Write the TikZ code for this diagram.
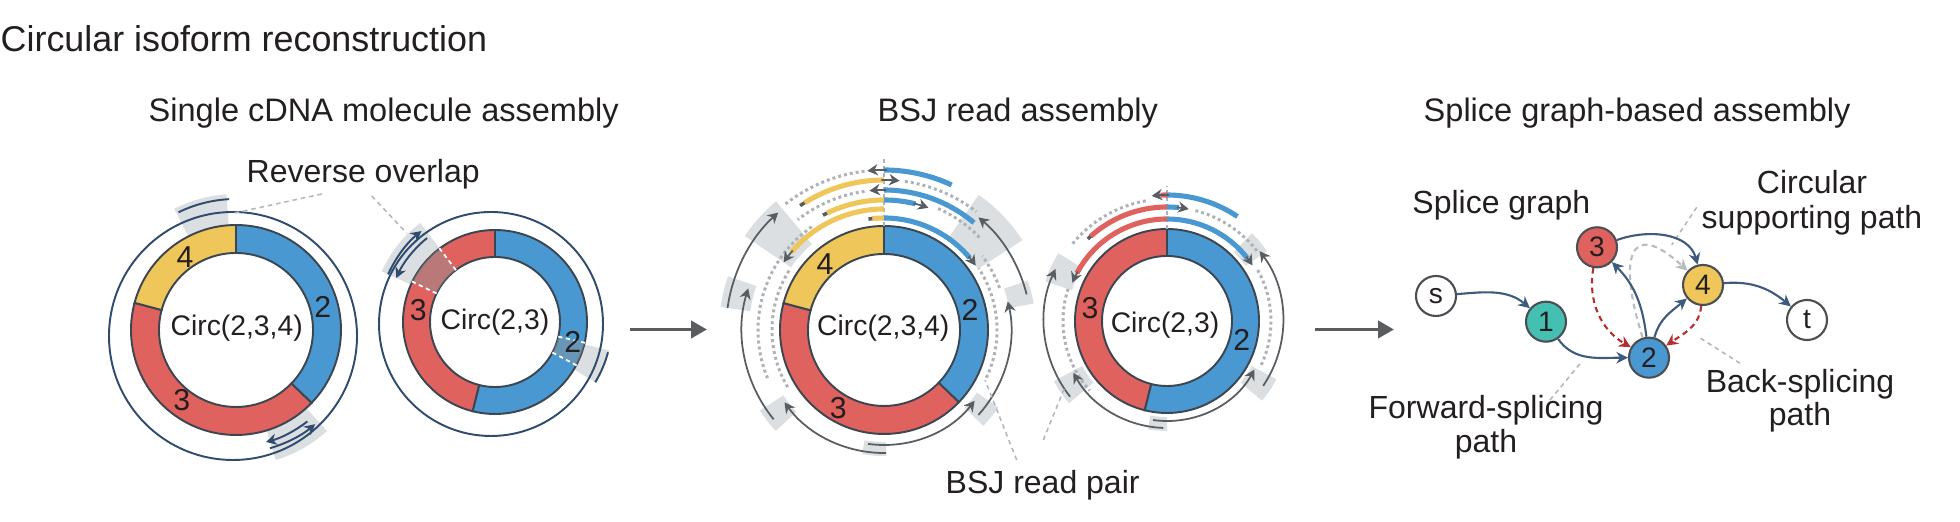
\documentclass[tikz,border=0pt]{standalone}
\usepackage{fontspec}
\setmainfont{Liberation Sans}
\usetikzlibrary{arrows.meta}
\definecolor{cblue}{HTML}{4A98D1}
\definecolor{cred}{HTML}{E0625F}
\definecolor{cyel}{HTML}{EEC659}
\definecolor{cteal}{HTML}{44BFB2}
\definecolor{navy}{HTML}{2F4B6E}
\definecolor{dgray}{HTML}{585D62}
\definecolor{dotc}{HTML}{AEB3B8}
\definecolor{pat}{HTML}{DCDFE2}
\definecolor{ovl}{HTML}{8F9499}
\definecolor{txt}{HTML}{231F20}
\definecolor{ringln}{HTML}{3B4650}
\definecolor{edgec}{HTML}{3E5A7E}
\definecolor{dred}{HTML}{B3302E}
\definecolor{gdash}{HTML}{B9BCBF}
\definecolor{nodeb}{HTML}{4B4F54}
\definecolor{leadc}{HTML}{B4B8BC}
\definecolor{bigc}{HTML}{5A5D60}
\newcommand{\annsec}[5][]{\path[#1] (#2:#4) arc[start angle=#2,end angle=#3,radius=#4] -- (#3:#5) arc[start angle=#3,end angle=#2,radius=#5] -- cycle;}
\newcommand{\rarc}[4][]{\draw[#1] (#2:#4) arc[start angle=#2,end angle=#3,radius=#4];}
\begin{document}
\begin{tikzpicture}[x=0.01cm,y=0.01cm,
  ttl/.style={anchor=base west,inner sep=0pt,text=txt,font=\fontsize{10.2pt}{12pt}\selectfont},
  hd/.style={anchor=base west,inner sep=0pt,text=txt,font=\fontsize{9.25pt}{11pt}\selectfont},
  lab/.style={inner sep=0pt,text=txt,font=\fontsize{9.1pt}{9.5pt}\selectfont,align=center},
  circlab/.style={inner sep=0pt,text=txt,font=\fontsize{8.05pt}{9pt}\selectfont},
  dig/.style={inner sep=0pt,text=txt,font=\fontsize{8.6pt}{9pt}\selectfont},
  ringseg/.style={draw=ringln,line width=0.55pt},
  navyln/.style={draw=navy,line width=0.55pt},
  nar/.style={draw=navy,line width=0.55pt,-{Stealth[length=3pt,width=3.2pt]}},
  dotln/.style={draw=dotc,line width=0.85pt,dash pattern=on 0.85pt off 0.85pt},
  readb/.style={draw=cblue,line width=1.45pt},
  ready/.style={draw=cyel,line width=1.45pt},
  readr/.style={draw=cred,line width=1.45pt},
  tailst/.style={draw=dgray,line width=1pt},
  gar/.style={draw=dgray,line width=0.5pt,-{Stealth[length=3pt,width=3.2pt]}},
  junc/.style={draw=dotc,line width=0.35pt,dash pattern=on 1pt off 1pt},
  wdash/.style={draw=white,line width=0.5pt,dash pattern=on 1.2pt off 1pt},
  leader/.style={draw=leadc,line width=0.45pt,dash pattern=on 1.3pt off 1.1pt},
  edge/.style={draw=edgec,line width=0.6pt,-{Stealth[length=3.3pt,width=3.3pt]}},
  redge/.style={draw=dred,line width=0.6pt,dash pattern=on 1.6pt off 1.2pt,-{Stealth[length=3.3pt,width=3.3pt]}},
  gedge/.style={draw=gdash,line width=0.6pt,dash pattern=on 1.6pt off 1.2pt,-{Stealth[length=3.3pt,width=3.3pt]}},
  snode/.style={circle,draw=nodeb,line width=0.6pt,minimum size=0.4cm,inner sep=0pt,text=txt,font=\fontsize{8pt}{9pt}\selectfont},
  bigarr/.style={draw=bigc,line width=1.1pt,-{Triangle[length=4.5pt,width=4.8pt]}}
]
\useasboundingbox (0,0) rectangle (1960,522);

% ---------- titles ----------
\node[ttl] (title) at (0,470.3) {Circular isoform reconstruction};
\node[hd] (h1) at (148,400.5) {Single cDNA molecule assembly};
\node[hd] (h2) at (877,400.5) {BSJ read assembly};
\node[hd] (h3) at (1423,400.5) {Splice graph-based assembly};

% ---------- panel 1: ring Circ(2,3,4) ----------
\begin{scope}[shift={(236,192)}]
  \annsec[fill=pat]{94}{117}{104}{136}
  \annsec[fill=pat]{-73}{-48}{104}{136}
  \annsec[ringseg,fill=cblue]{-44}{90}{77}{105}
  \annsec[ringseg,fill=cred]{165}{316}{77}{105}
  \annsec[ringseg,fill=cyel]{90}{165}{77}{105}
  \draw[navyln] (-3,-6) circle[radius=124];
  \rarc[navyln]{93}{116}{131}
  \rarc[nar]{-52}{-75}{116}
  \rarc[nar]{-74}{-50}{123}
\end{scope}
\node[circlab] (c1) at (236.7,193.7) {Circ(2,3,4)};
\node[dig] (c1d4) at (185,265) {4};
\node[dig] (c1d2) at (322.7,214.7) {2};
\node[dig] (c1d3) at (181.7,122) {3};

% ---------- panel 1: ring Circ(2,3) ----------
\begin{scope}[shift={(495,200)}]
  \annsec[fill=pat]{127}{156}{92}{124}
  \annsec[fill=pat]{-31}{-14}{92}{118}
  \annsec[ringseg,fill=cred]{90}{256}{65}{92}
  \annsec[ringseg,fill=cblue]{-104}{90}{65}{92}
  \annsec[fill=ovl,fill opacity=0.45]{127}{154}{65}{92}
  \annsec[fill=ovl,fill opacity=0.45]{-28}{-13}{65}{92}
  \draw[wdash] (127:65) -- (127:96);
  \draw[wdash] (154:65) -- (154:96);
  \draw[wdash] (-13:65) -- (-13:96);
  \draw[wdash] (-28:65) -- (-28:96);
  \draw[navyln] (-4,-2) circle[radius=112];
  \rarc[nar]{156}{129}{117}
  \rarc[nar]{129}{156}{108}
  \rarc[navyln]{-15}{-31}{117}
\end{scope}
\node[circlab] (c2) at (495,200.3) {Circ(2,3)};
\node[dig] (c2d3) at (418.3,212) {3};
\node[dig] (c2d2) at (572.7,180.3) {2};

\node[lab,anchor=base west] (rolab) at (246,339.5) {Reverse overlap};
\coordinate (roA) at (321.7,328);
\coordinate (roB) at (233.3,308.7);
\coordinate (roC) at (371.7,326);
\coordinate (roD) at (406.7,288.7);
\draw[leader] (roA) -- (roB);
\draw[leader] (roC) -- (roD);

% ---------- big arrows ----------
\coordinate (a1s) at (630,192.5);
\coordinate (a1e) at (707,192.5);
\coordinate (a2s) at (1315,192.5);
\coordinate (a2e) at (1394,192.5);
\draw[bigarr] (a1s) -- (a1e);
\draw[bigarr] (a2s) -- (a2e);

% ---------- panel 2: BSJ ring Circ(2,3,4) ----------
\begin{scope}[shift={(884,192)}]
  \annsec[fill=pat]{130}{146}{112}{168}
  \annsec[fill=pat]{33}{55}{112}{165}
  \annsec[fill=pat]{161}{172}{135}{165}
  \annsec[fill=pat]{10}{19}{127}{152}
  \annsec[fill=pat]{213}{223}{120}{148}
  \annsec[fill=pat]{-44}{-34}{112}{138}
  \annsec[fill=pat]{-100}{-89}{112}{126}
  \annsec[ringseg,fill=cblue]{-44}{90}{76}{104}
  \annsec[ringseg,fill=cred]{165}{316}{76}{104}
  \annsec[ringseg,fill=cyel]{90}{165}{76}{104}
  \draw[junc] (90:104) -- (90:172);
  % dotted mates
  \rarc[dotln]{97}{128}{160}
  \rarc[dotln]{82}{52}{150}
  \rarc[dotln]{98}{128}{140}
  \rarc[dotln]{66}{44}{133}
  \rarc[dotln]{125}{203}{126}
  \rarc[dotln]{148}{212}{112}
  \rarc[dotln]{-25}{33}{113}
  \rarc[dotln]{20}{37}{123}
  % BSJ reads
  \rarc[readb]{65}{90}{160}
  \rarc[ready]{90}{122}{150}
  \rarc[readb]{50}{90}{140}
  \rarc[ready]{90}{116}{130}
  \rarc[readb]{76}{90}{130}
  \rarc[ready]{90}{140}{121}
  \rarc[ready]{90}{96}{112}
  \rarc[readb]{40}{90}{112}
  \rarc[tailst]{122}{124}{150}
  \rarc[tailst]{116}{118}{130}
  \rarc[tailst]{96}{98}{112}
  \rarc[gar]{89}{96}{160}
  \rarc[gar]{91}{84}{150}
  \rarc[gar]{89}{96}{140}
  \rarc[gar]{77}{70}{130}
  \rarc[gar]{139}{146}{121}
  \rarc[gar]{41}{35}{112}
  % long reads
  \rarc[gar]{172}{132}{158}
  \rarc[gar]{219}{163}{142}
  \rarc[gar]{14}{50}{147}
  \rarc[gar]{-42}{13}{127}
  \rarc[gar]{271}{216}{123}
  \rarc[gar]{262}{322}{115}
\end{scope}
\node[circlab] (c3) at (883.3,193.7) {Circ(2,3,4)};
\node[dig] (c3d4) at (825,258) {4};
\node[dig] (c3d2) at (970,212) {2};
\node[dig] (c3d3) at (838.3,113.7) {3};

% ---------- panel 2: BSJ ring Circ(2,3) ----------
\begin{scope}[shift={(1167,201)}]
  \annsec[fill=pat]{148}{162}{100}{128}
  \annsec[fill=pat]{208}{220}{96}{128}
  \annsec[fill=pat]{35}{46}{96}{122}
  \annsec[fill=pat]{-40}{-28}{96}{124}
  \annsec[fill=pat]{-100}{-90}{96}{110}
  \annsec[ringseg,fill=cred]{90}{256}{65}{92}
  \annsec[ringseg,fill=cblue]{-104}{90}{65}{92}
  \draw[junc] (90:92) -- (90:135);
  \rarc[dotln]{100}{142}{122}
  \rarc[dotln]{38}{76}{114}
  \rarc[dotln]{162}{222}{104}
  \rarc[dotln]{-25}{30}{104}
  \rarc[readb]{56}{90}{126}
  \rarc[readr]{90}{93}{126}
  \rarc[readr]{90}{132}{114}
  \rarc[readb]{84}{90}{114}
  \rarc[readr]{90}{152}{102}
  \rarc[readb]{38}{90}{102}
  \rarc[tailst]{132}{134}{114}
  \rarc[gar]{89}{97}{126}
  \rarc[gar]{85}{79}{114}
  \rarc[gar]{151}{158}{102}
  \rarc[gar]{39}{33}{102}
  \rarc[gar]{218}{155}{123}
  \rarc[gar]{268}{209}{107}
  \rarc[gar]{-98}{-29}{100}
  \rarc[gar]{-34}{37}{116}
\end{scope}
\node[circlab] (c4) at (1165,197) {Circ(2,3)};
\node[dig] (c4d3) at (1090,213.7) {3};
\node[dig] (c4d2) at (1241.7,182) {2};

\node[lab,anchor=base west] (bsjlab) at (945,28) {BSJ read pair};
\coordinate (bpA) at (1016.7,62);
\coordinate (bpB) at (985,142);
\coordinate (bpC) at (1043.3,82);
\coordinate (bpD) at (1065,135.3);
\draw[leader] (bpA) -- (bpB);
\draw[leader] (bpC) -- (bpD);

% ---------- panel 3: splice graph ----------
\node[lab,anchor=base west] (sglab) at (1411.7,308.7) {Splice graph};
\node[lab,anchor=north,font=\fontsize{9.1pt}{9.96pt}\selectfont] (cplab) at (1812,352) {Circular\\supporting path};
\node[lab,anchor=north] (fwlab) at (1486,127) {Forward-splicing\\path};
\node[lab,anchor=north] (bklab) at (1800,153.7) {Back-splicing\\path};

\coordinate (lcA) at (1696.7,314.7);
\coordinate (lcB) at (1671.7,277);
\coordinate (lfA) at (1550,122);
\coordinate (lfB) at (1581.7,160.3);
\coordinate (lbA) at (1740,158.7);
\coordinate (lbB) at (1698,185.3);
\draw[leader] (lcA) -- (lcB);
\draw[leader] (lfA) -- (lfB);
\draw[leader] (lbA) -- (lbB);

\node[snode,fill=white] (s) at (1436,226) {s};
\node[snode,fill=cteal] (n1) at (1546,200.3) {1};
\node[snode,fill=cred] (n3) at (1597,274.7) {3};
\node[snode,fill=cblue] (n2) at (1649,164.3) {2};
\node[snode,fill=cyel] (n4) at (1703,237) {4};
\node[snode,fill=white] (t) at (1807,202) {t};

\draw[gedge] (n2) .. controls (1618,262) and (1628,306) .. (n4);
\draw[edge] (s) to[out=5,in=140] (n1);
\draw[edge] (n1) to[out=-55,in=180] (n2);
\draw[edge] (n2) to[out=97,in=-45] (n3);
\draw[edge] (n2) to[out=75,in=-140] (n4);
\draw[edge] (n3) to[out=20,in=105] (n4);
\draw[edge] (n4) to[out=5,in=140] (t);
\draw[redge] (n3) to[out=-100,in=150] (n2);
\draw[redge] (n4) to[out=-95,in=35] (n2);
\end{tikzpicture}
\end{document}
